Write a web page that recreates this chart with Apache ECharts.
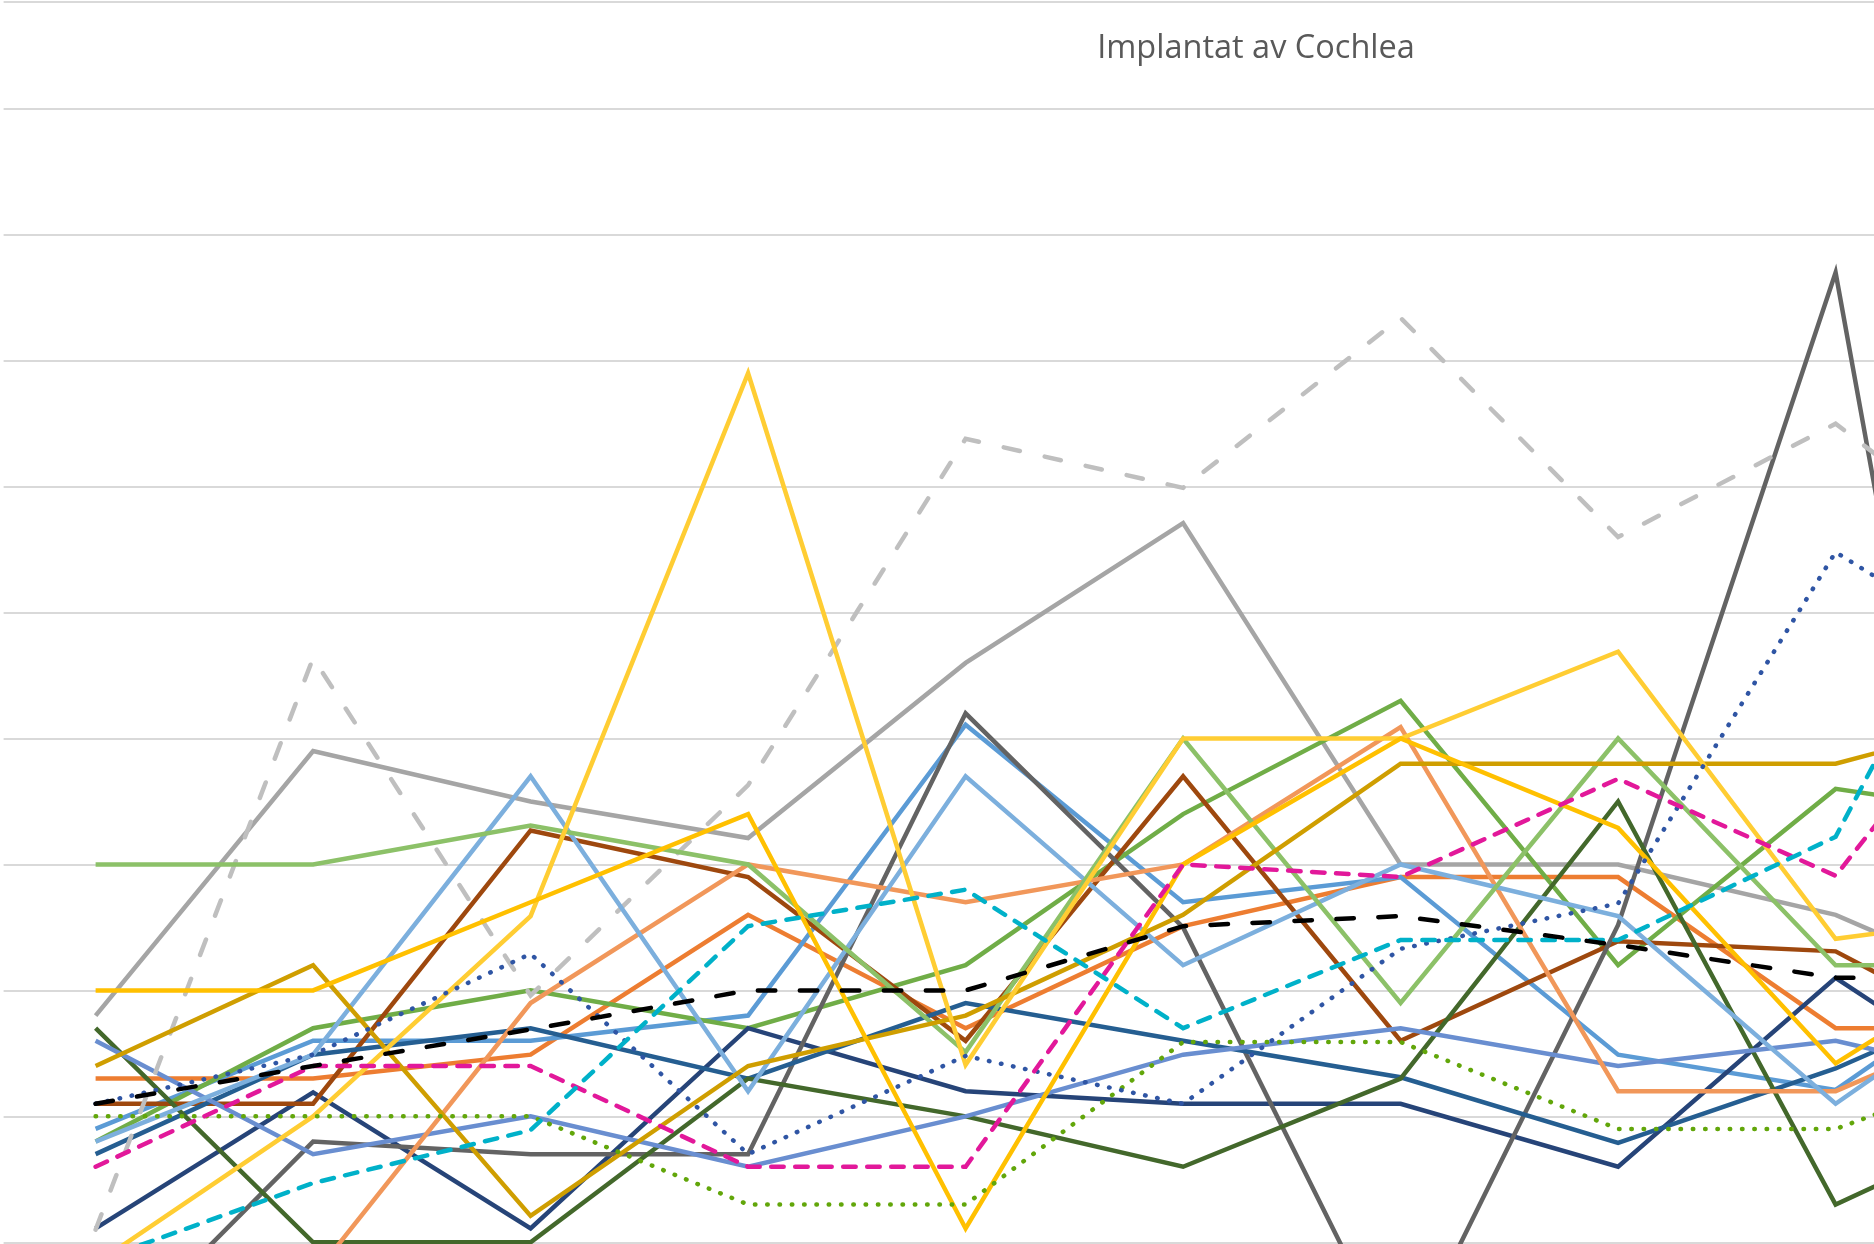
<!DOCTYPE html>
<html>
<head>
<meta charset="utf-8">
<script src="https://cdn.jsdelivr.net/npm/echarts@6/dist/echarts.min.js"></script>
<style>
html,body{margin:0;padding:0;background:#ffffff;}
#chart{width:1874px;height:1244px;}
</style>
</head>
<body>
<div id="chart"></div>
<script>
// Categories (axis labels are cropped out of the reference)
const categories = ['1','2','3','4','5','6','7','8','9','10'];

// Series values, in gridline units
const lightGreen   = [3.00, 3.00, 3.31, 3.00, 1.51, 4.00, 1.90, 4.00, 2.20, 2.20];
const gray         = [1.80, 3.90, 3.50, 3.21, 4.60, 5.71, 3.00, 3.00, 2.60, 1.85];
const lightGrayDash= [0.10, 4.64, 1.96, 3.63, 6.38, 5.99, 7.34, 5.60, 6.50, 5.17];
const darkGray     = [-0.94, 0.80, 0.70, 0.70, 4.20, 2.50, -0.97, 2.52, 7.70, -1.80];
const gold         = [2.00, 2.00, 2.70, 3.40, 0.11, 3.00, 4.00, 3.29, 1.42, 2.50];
const lightYellow  = [-0.17, 1.00, 2.59, 6.90, 1.41, 4.00, 4.00, 4.69, 2.41, 2.64];
const mustard      = [1.40, 2.20, 0.21, 1.40, 1.80, 2.60, 3.80, 3.80, 3.80, 4.26];
const green        = [0.80, 1.70, 2.00, 1.70, 2.20, 3.40, 4.30, 2.20, 3.60, 3.35];
const darkGreen    = [1.70, 0.00, 0.00, 1.30, 1.00, 0.60, 1.30, 3.50, 0.30, 1.10];
const lightBlue    = [0.80, 1.49, 3.70, 1.20, 3.70, 2.20, 3.00, 2.59, 1.10, 2.30];
const medBlue      = [0.90, 1.60, 1.60, 1.80, 4.11, 2.70, 2.90, 1.49, 1.21, 2.41];
const navy         = [0.11, 1.19, 0.11, 1.70, 1.20, 1.10, 1.10, 0.60, 2.10, 0.96];
const blue         = [0.70, 1.49, 1.70, 1.30, 1.90, 1.60, 1.31, 0.79, 1.38, 2.14];
const periwinkle   = [1.60, 0.70, 1.00, 0.60, 1.00, 1.49, 1.70, 1.40, 1.60, 1.20];
const orange       = [1.30, 1.30, 1.49, 2.60, 1.70, 2.51, 2.90, 2.90, 1.70, 1.70];
const lightOrange  = [-0.60, -0.27, 1.90, 3.00, 2.70, 3.00, 4.09, 1.20, 1.20, 1.94];
const brown        = [1.10, 1.10, 3.27, 2.90, 1.60, 3.70, 1.60, 2.39, 2.31, 1.40];
const blueDot      = [1.10, 1.49, 2.29, 0.70, 1.48, 1.10, 2.33, 2.69, 5.48, 4.41];
const greenDot     = [1.00, 1.00, 1.00, 0.30, 0.30, 1.59, 1.59, 0.90, 0.90, 1.53];
const magentaDash  = [0.60, 1.40, 1.40, 0.60, 0.60, 3.00, 2.90, 3.68, 2.91, 5.10];
const cyanDash     = [-0.15, 0.47, 0.89, 2.51, 2.80, 1.70, 2.40, 2.40, 3.22, 6.50];
const blackDash    = [1.10, 1.40, 1.69, 2.00, 2.00, 2.51, 2.59, 2.36, 2.10, 2.10];

const titleText = 'Implantat av Cochlea';

const LW = 4.5;
const DASH_LONG = [16.5, 25.5];
const DASH_BLACK = [17.5, 24.5];
const DASH_SHORT = [12.5, 11.5];
const DOT = [0.5, 11.8];

function mk(name, data, color, dash) {
  return {
    name: name,
    type: 'line',
    xAxisIndex: 0,
    yAxisIndex: 0,
    data: data,
    symbol: 'none',
    showSymbol: false,
    smooth: false,
    clip: true,
    silent: true,
    itemStyle: { color: color },
    lineStyle: {
      color: color,
      width: LW,
      type: dash ? dash : 'solid',
      cap: dash ? 'round' : 'butt',
      join: 'miter',
      miterLimit: 10
    }
  };
}

const seriesList = [
  mk('s1', orange, '#ED7D31'),
  mk('s2', gray, '#A5A5A5'),
  mk('s3', medBlue, '#5B9BD5'),
  mk('s4', green, '#70AD47'),
  mk('s5', navy, '#264478'),
  mk('s6', brown, '#9E480E'),
  mk('s7', darkGray, '#636363'),
  mk('s8', blue, '#255E91'),
  mk('s9', darkGreen, '#43682B'),
  mk('s10', periwinkle, '#698ED0'),
  mk('s11', lightOrange, '#F1975A'),
  mk('s12', lightGrayDash, '#BFBFBF', DASH_LONG),
  mk('s13', lightBlue, '#7CAFDD'),
  mk('s14', lightGreen, '#8CC168'),
  mk('s15', mustard, '#CF9E00'),
  mk('s16', lightYellow, '#FFCD33'),
  mk('s17', gold, '#FFC000'),
  mk('s18', greenDot, '#62A60A', DOT),
  mk('s19', blueDot, '#2F55A4', DOT),
  mk('s20', magentaDash, '#E2189A', DASH_SHORT),
  mk('s21', cyanDash, '#00B1C9', DASH_SHORT),
  mk('s22', blackDash, '#000000', DASH_BLACK)
];

// title placement
const TITLE_FS = 32.5;
const TITLE_FONT = '"Open Sans", "Noto Sans", sans-serif';
const cv = document.createElement('canvas').getContext('2d');
cv.font = TITLE_FS + 'px ' + TITLE_FONT;
const titleW = cv.measureText(titleText).width;
const TITLE_CX = 1256;

const Y_MIN = -2, Y_MAX = 9.85, Y_INT = 1;
const GRID_TOP = 1.7;
const GRID_BOTTOM = 1244 - (1.7 + 11.85 * 125.95);

const chart = echarts.init(document.getElementById('chart'), null, { renderer: 'canvas', width: 1874, height: 1244 });
chart.setOption({
  animation: false,
  backgroundColor: '#ffffff',
  title: {
    text: titleText,
    left: TITLE_CX - titleW / 2,
    top: 32.7,
    padding: 0,
    textStyle: { fontFamily: TITLE_FONT, fontSize: TITLE_FS, fontWeight: 'normal', color: '#595959' }
  },
  grid: [
    {
      left: 95.6,
      right: 1874 - 95.6 - 9 * 217.5,
      top: GRID_TOP,
      bottom: GRID_BOTTOM,
      containLabel: false,
      outerBoundsMode: 'none'
    },
    {
      left: 3.6,
      right: 0,
      top: GRID_TOP,
      bottom: GRID_BOTTOM,
      containLabel: false,
      outerBoundsMode: 'none',
      z: 0
    }
  ],
  xAxis: [
    {
      type: 'category',
      gridIndex: 0,
      data: categories,
      boundaryGap: false,
      axisLine: { show: false },
      axisTick: { show: false },
      axisLabel: { show: false },
      splitLine: { show: false }
    },
    {
      type: 'value',
      gridIndex: 1,
      min: 0,
      max: 1,
      show: false
    }
  ],
  yAxis: [
    {
      type: 'value',
      gridIndex: 0,
      min: Y_MIN,
      max: Y_MAX,
      interval: Y_INT,
      axisLine: { show: false },
      axisTick: { show: false },
      axisLabel: { show: false },
      splitLine: { show: false }
    },
    {
      type: 'value',
      gridIndex: 1,
      min: Y_MIN,
      max: Y_MAX,
      interval: Y_INT,
      z: 0,
      axisLine: { show: false },
      axisTick: { show: false },
      axisLabel: { show: false },
      splitLine: { show: true, lineStyle: { color: '#D9D9D9', width: 2 } }
    }
  ],
  series: seriesList
});
</script>
</body>
</html>
